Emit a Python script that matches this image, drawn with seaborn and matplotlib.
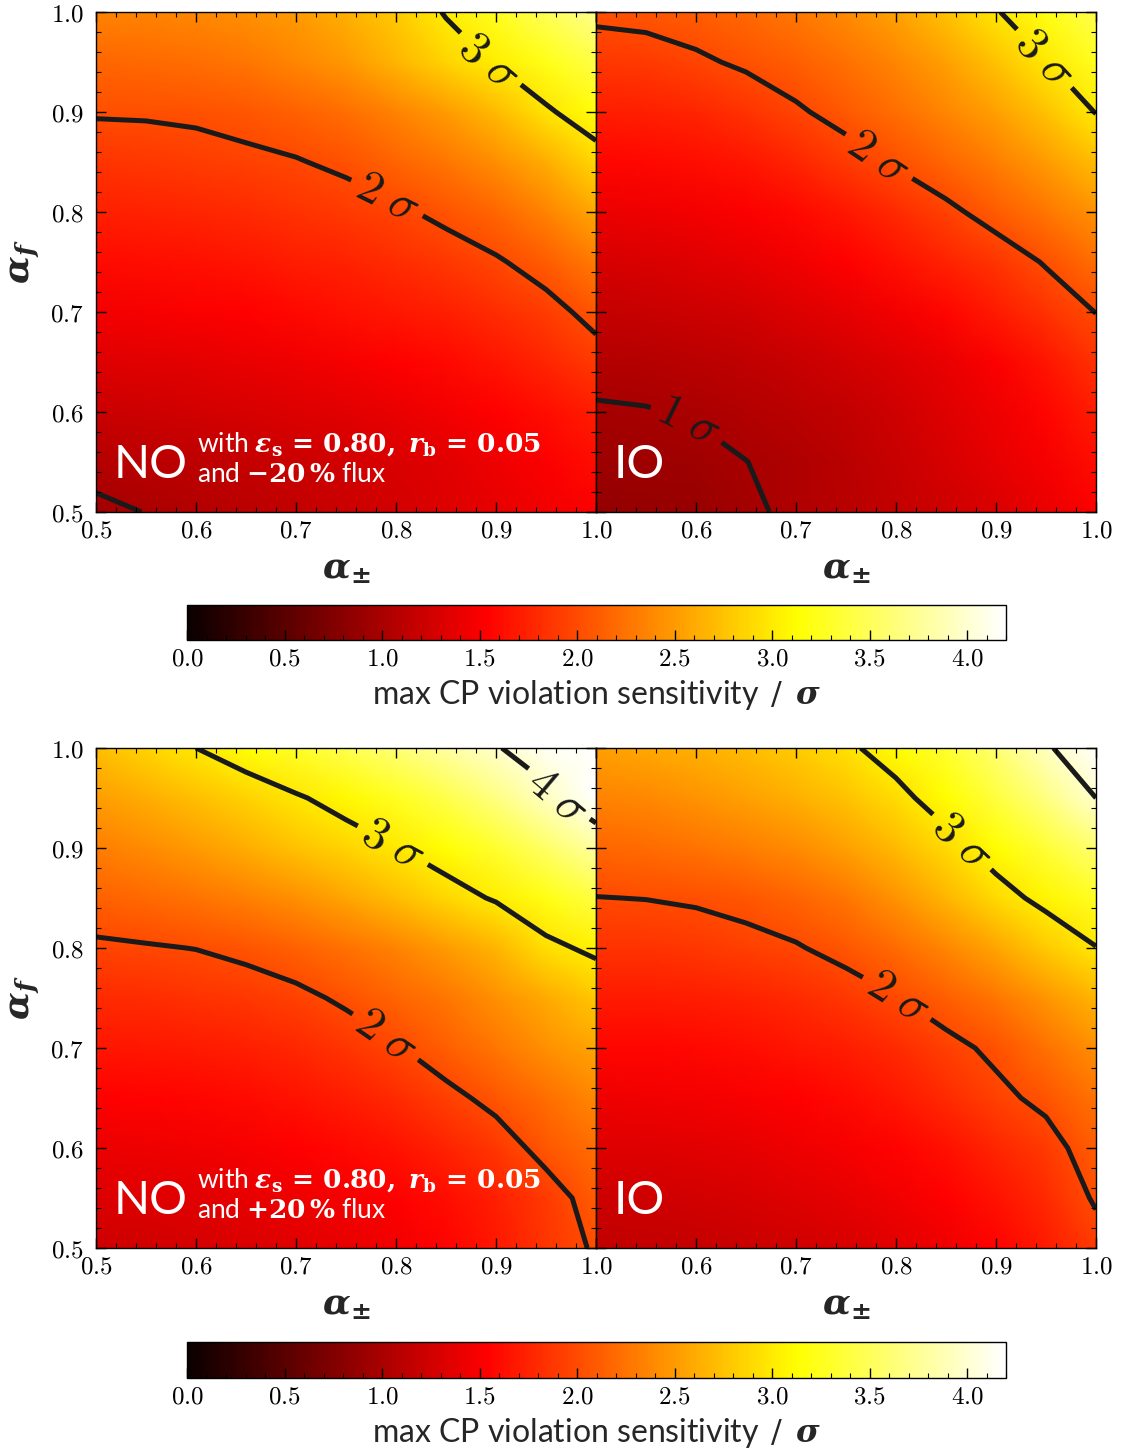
import numpy as np
import matplotlib
matplotlib.use("Agg")
import matplotlib.pyplot as plt
import seaborn as sns
from matplotlib.ticker import MultipleLocator, FuncFormatter

# ---------------- data ----------------
alpha_pm = [0.50, 0.55, 0.60, 0.65, 0.70, 0.75, 0.80, 0.85, 0.90, 0.95, 1.00]
alpha_f = [0.50, 0.55, 0.60, 0.65, 0.70, 0.75, 0.80, 0.85, 0.90, 0.95, 1.00]

# rows: alpha_f = 0.50 ... 1.00 ; columns: alpha_pm = 0.50 ... 1.00
no_minus20 = [
    [0.95, 1.005, 1.05, 1.10, 1.15, 1.20, 1.26, 1.32, 1.38, 1.45, 1.52],
    [1.08, 1.10, 1.13, 1.17, 1.21, 1.25, 1.30, 1.36, 1.43, 1.51, 1.61],
    [1.21, 1.225, 1.25, 1.28, 1.32, 1.36, 1.41, 1.47, 1.54, 1.62, 1.71],
    [1.34, 1.355, 1.375, 1.405, 1.44, 1.48, 1.53, 1.59, 1.66, 1.76, 1.90],
    [1.47, 1.485, 1.51, 1.54, 1.58, 1.625, 1.675, 1.735, 1.815, 1.913, 2.08],
    [1.60, 1.615, 1.64, 1.67, 1.71, 1.755, 1.805, 1.88, 1.97, 2.106, 2.30],
    [1.73, 1.745, 1.77, 1.80, 1.84, 1.89, 1.96, 2.06, 2.18, 2.35, 2.58],
    [1.87, 1.885, 1.915, 1.95, 1.985, 2.05, 2.15, 2.27, 2.42, 2.62, 2.88],
    [2.02, 2.025, 2.04, 2.08, 2.14, 2.23, 2.35, 2.50, 2.70, 2.96, 3.16],
    [2.18, 2.19, 2.22, 2.28, 2.37, 2.49, 2.66, 2.86, 3.02, 3.22, 3.42],
    [2.35, 2.36, 2.39, 2.44, 2.51, 2.63, 2.80, 3.02, 3.26, 3.49, 3.72],
]
io_minus20 = [
    [0.86, 0.875, 0.90, 0.965, 1.04, 1.09, 1.15, 1.22, 1.30, 1.41, 1.54],
    [0.92, 0.93, 0.95, 0.998, 1.045, 1.11, 1.19, 1.28, 1.38, 1.49, 1.62],
    [0.98, 0.99, 1.015, 1.05, 1.10, 1.16, 1.24, 1.33, 1.43, 1.56, 1.72],
    [1.063, 1.075, 1.10, 1.14, 1.19, 1.25, 1.32, 1.41, 1.52, 1.66, 1.84],
    [1.17, 1.185, 1.215, 1.26, 1.32, 1.39, 1.47, 1.57, 1.70, 1.85, 2.005],
    [1.29, 1.305, 1.34, 1.39, 1.45, 1.53, 1.63, 1.74, 1.86, 2.02, 2.22],
    [1.42, 1.435, 1.47, 1.52, 1.59, 1.68, 1.80, 1.94, 2.10, 2.27, 2.46],
    [1.56, 1.575, 1.61, 1.67, 1.76, 1.89, 2.03, 2.17, 2.32, 2.50, 2.72],
    [1.71, 1.725, 1.765, 1.84, 1.965, 2.09, 2.22, 2.37, 2.54, 2.75, 3.01],
    [1.88, 1.90, 1.96, 2.04, 2.13, 2.24, 2.37, 2.53, 2.74, 2.99, 3.25],
    [2.05, 2.07, 2.12, 2.19, 2.29, 2.41, 2.55, 2.75, 2.98, 3.21, 3.45],
]
no_plus20 = [
    [1.23, 1.245, 1.27, 1.30, 1.34, 1.39, 1.46, 1.55, 1.68, 1.86, 2.03],
    [1.32, 1.335, 1.36, 1.39, 1.43, 1.48, 1.54, 1.62, 1.73, 1.89, 2.10],
    [1.42, 1.435, 1.46, 1.49, 1.53, 1.585, 1.655, 1.75, 1.88, 2.08, 2.22],
    [1.53, 1.545, 1.57, 1.60, 1.645, 1.71, 1.80, 1.93, 2.07, 2.22, 2.38],
    [1.66, 1.675, 1.70, 1.735, 1.785, 1.87, 1.98, 2.13, 2.28, 2.43, 2.57],
    [1.80, 1.815, 1.84, 1.88, 1.94, 2.04, 2.15, 2.28, 2.43, 2.60, 2.78],
    [1.96, 1.98, 2.005, 2.06, 2.14, 2.24, 2.36, 2.50, 2.66, 2.93, 3.06],
    [2.14, 2.19, 2.25, 2.33, 2.44, 2.57, 2.72, 2.88, 3.03, 3.21, 3.40],
    [2.32, 2.41, 2.51, 2.62, 2.74, 2.87, 2.99, 3.14, 3.32, 3.56, 3.80],
    [2.52, 2.62, 2.73, 2.85, 2.97, 3.10, 3.26, 3.44, 3.66, 3.93, 4.20],
    [2.73, 2.86, 3.00, 3.14, 3.29, 3.45, 3.62, 3.80, 3.98, 4.15, 4.40],
]
io_plus20 = [
    [1.14, 1.15, 1.17, 1.20, 1.24, 1.29, 1.35, 1.43, 1.55, 1.70, 1.90],
    [1.23, 1.24, 1.26, 1.29, 1.33, 1.38, 1.45, 1.54, 1.65, 1.80, 2.03],
    [1.33, 1.34, 1.36, 1.39, 1.43, 1.48, 1.55, 1.64, 1.76, 1.90, 2.13],
    [1.44, 1.45, 1.47, 1.50, 1.54, 1.60, 1.68, 1.79, 1.94, 2.06, 2.26],
    [1.56, 1.57, 1.59, 1.62, 1.66, 1.72, 1.80, 1.93, 2.05, 2.24, 2.43],
    [1.69, 1.70, 1.72, 1.755, 1.80, 1.88, 1.99, 2.12, 2.28, 2.47, 2.67],
    [1.84, 1.85, 1.875, 1.92, 1.98, 2.08, 2.21, 2.37, 2.56, 2.79, 2.99],
    [1.995, 2.005, 2.03, 2.08, 2.15, 2.27, 2.45, 2.66, 2.89, 3.08, 3.27],
    [2.17, 2.20, 2.25, 2.32, 2.41, 2.53, 2.70, 2.90, 3.12, 3.35, 3.60],
    [2.35, 2.39, 2.45, 2.53, 2.63, 2.75, 2.92, 3.13, 3.38, 3.67, 4.00],
    [2.54, 2.58, 2.64, 2.72, 2.82, 2.95, 3.12, 3.33, 3.60, 3.93, 4.40],
]

contour_levels = [1, 2, 3, 4]
level_labels = {1: r'$1\;\sigma$', 2: r'$2\;\sigma$', 3: r'$3\;\sigma$', 4: r'$4\;\sigma$'}
cbar_ticks = [0.0, 0.5, 1.0, 1.5, 2.0, 2.5, 3.0, 3.5, 4.0]
cbar_label = r'max CP violation sensitivity $\,/\,$ $\mathbfit{\sigma}$'
flux_texts = [r'and $\mathbf{-20\,\%}$ flux', r'and $\mathbf{+20\,\%}$ flux']
eff_text = (r'with $\mathbfit{\varepsilon}_{\mathbf{s}}\,\mathbf{=}\,\mathbf{0.80,}\ '
            r'\mathbfit{r}_{\mathbf{b}}\,\mathbf{=}\,\mathbf{0.05}$')

# ---------------- style ----------------
sns.set_theme(style="ticks")
plt.rcParams['font.family'] = ['Lato', 'DejaVu Sans']
plt.rcParams['mathtext.fontset'] = 'cm'
plt.rcParams['axes.linewidth'] = 1.0
plt.rcParams['axes.edgecolor'] = 'black'
plt.rcParams['axes.axisbelow'] = False

cmap = sns.color_palette("hot", as_cmap=True)
VMIN, VMAX = 0.0, 4.2

fig = plt.figure(figsize=(11.21, 14.52), dpi=100)
fig.patch.set_facecolor('white')

W = 500 / 1121
H = 500 / 1452
lefts = [96 / 1121, 596 / 1121]
bottoms = [1 - 512 / 1452, 1 - 1248 / 1452]

fmt_num = FuncFormatter(lambda v, p: f'${v:.1f}$')
fmt_num_skip = FuncFormatter(lambda v, p: '' if abs(v - 0.5) < 1e-6 else f'${v:.1f}$')

TICK_FS = 18


def draw_panel(ax, Z, label_pos, left_col, order_txt, flux_txt=None):
    Z = np.array(Z)
    ax.set_axisbelow(False)
    m = ax.pcolormesh(alpha_pm, alpha_f, Z, shading='gouraud', cmap=cmap,
                      vmin=VMIN, vmax=VMAX, rasterized=True, zorder=0)
    cs = ax.contour(alpha_pm, alpha_f, Z, levels=contour_levels, colors='k',
                    linewidths=3.6, zorder=1)
    if label_pos:
        ax.clabel(cs, fmt=level_labels, manual=label_pos, fontsize=34,
                  inline=True, inline_spacing=8)
    ax.set_xlim(0.5, 1.0)
    ax.set_ylim(0.5, 1.0)
    for axis in (ax.xaxis, ax.yaxis):
        axis.set_major_locator(MultipleLocator(0.1))
        axis.set_minor_locator(MultipleLocator(0.02))
    ax.tick_params(which='both', direction='in', top=True, right=True,
                   bottom=True, left=True, colors='black')
    ax.tick_params(which='major', length=7, width=1.0, labelsize=TICK_FS)
    ax.tick_params(which='minor', length=3.5, width=0.8)
    ax.tick_params(axis='x', pad=5)
    ax.tick_params(axis='y', pad=9)
    for sp in ax.spines.values():
        sp.set_visible(True)
        sp.set_linewidth(1.0)
        sp.set_color('black')
        sp.set_zorder(5)
    if left_col:
        ax.xaxis.set_major_formatter(fmt_num)
        ax.yaxis.set_major_formatter(fmt_num)
        ax.set_ylabel(r'$\mathbfit{\alpha}_{\mathbfit{f}}$', fontsize=26,
                      math_fontfamily='dejavuserif', labelpad=6)
    else:
        ax.xaxis.set_major_formatter(fmt_num_skip)
        ax.tick_params(labelleft=False)
    ax.set_xlabel(r'$\mathbfit{\alpha}_{\mathbf{\pm}}$', fontsize=26,
                  math_fontfamily='dejavuserif', labelpad=8)
    ax.text(0.036, 0.094, order_txt, transform=ax.transAxes, color='white',
            fontsize=34, ha='left', va='center', zorder=6)
    if flux_txt is not None:
        ax.text(0.202, 0.136, eff_text, transform=ax.transAxes, color='white',
                fontsize=19, ha='left', va='center', math_fontfamily='dejavuserif',
                zorder=6)
        ax.text(0.202, 0.074, flux_txt, transform=ax.transAxes, color='white',
                fontsize=19, ha='left', va='center', math_fontfamily='dejavuserif',
                zorder=6)
    return m


panels = [
    (no_minus20, [(0.792, 0.816), (0.897, 0.955)], 0, 0, 'NO', flux_texts[0]),
    (io_minus20, [(0.595, 0.598), (0.784, 0.857), (0.95, 0.955)], 1, 0, 'IO', None),
    (no_plus20, [(0.794, 0.718), (0.798, 0.905), (0.959, 0.95)], 0, 1, 'NO', flux_texts[1]),
    (io_plus20, [(0.804, 0.755), (0.865, 0.905)], 1, 1, 'IO', None),
]

mappables = []
for Z, lp, col, row, otxt, ftxt in panels:
    ax = fig.add_axes([lefts[col], bottoms[row], W, H])
    mappables.append(draw_panel(ax, Z, lp, col == 0, otxt, ftxt))

cb_rects = [[187 / 1121, 1 - 640 / 1452, 819 / 1121, 35 / 1452],
            [187 / 1121, 1 - 1378 / 1452, 819 / 1121, 36 / 1452]]
for rect, m in zip(cb_rects, [mappables[0], mappables[2]]):
    cax = fig.add_axes(rect)
    cax.set_axisbelow(False)
    cb = fig.colorbar(m, cax=cax, orientation='horizontal')
    cb.set_ticks(cbar_ticks)
    cb.ax.xaxis.set_major_formatter(fmt_num)
    cb.ax.xaxis.set_minor_locator(MultipleLocator(0.1))
    cb.ax.tick_params(which='both', direction='in', bottom=True, top=False,
                      colors='black')
    cb.ax.tick_params(which='major', length=7, width=1.0, labelsize=TICK_FS, pad=5)
    cb.ax.tick_params(which='minor', length=3.5, width=0.8)
    cb.outline.set_linewidth(1.0)
    cb.outline.set_edgecolor('black')
    cb.set_label(cbar_label, fontsize=23, math_fontfamily='dejavuserif', labelpad=6)

fig.savefig('out.png', dpi=100, facecolor='white')
